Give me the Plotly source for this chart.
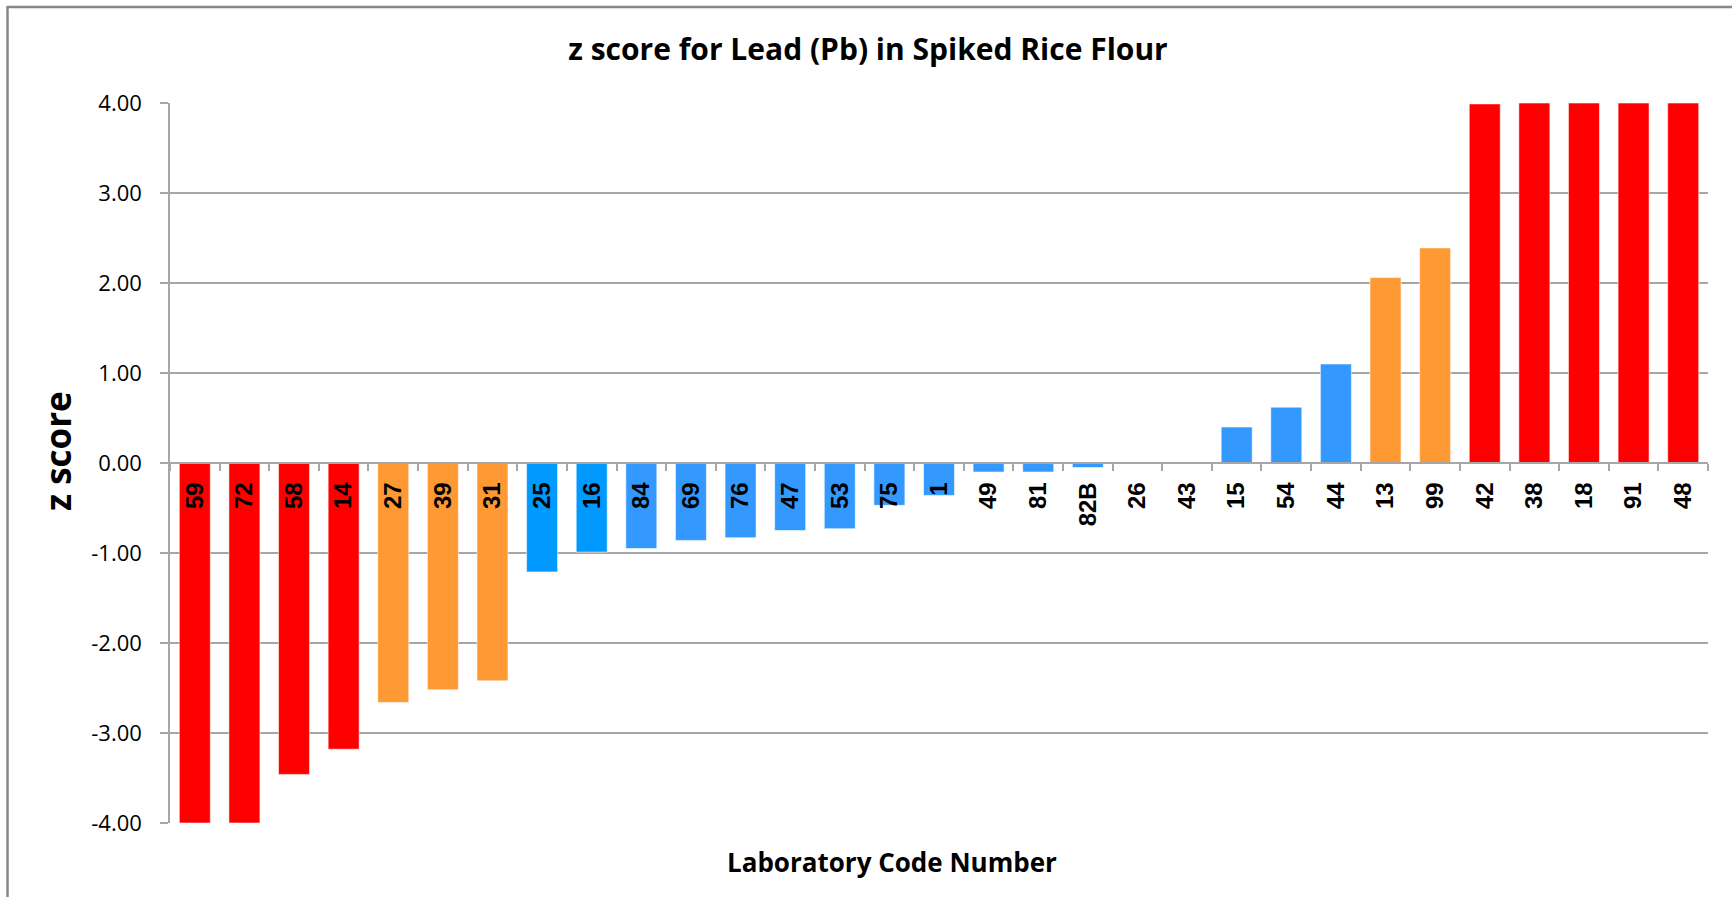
import plotly.graph_objects as go

# ---- data ----
lab_codes = ["59", "72", "58", "14", "27", "39", "31", "25", "16", "84", "69", "76",
             "47", "53", "75", "1", "49", "81", "82B", "26", "43", "15", "54", "44",
             "13", "99", "42", "38", "18", "91", "48"]
z_scores = [-4.00, -4.00, -3.46, -3.18, -2.66, -2.52, -2.42, -1.21, -0.99, -0.95, -0.86, -0.83,
            -0.75, -0.73, -0.47, -0.36, -0.10, -0.10, -0.05, 0.00, 0.00, 0.40, 0.62, 1.10,
            2.06, 2.39, 3.99, 4.00, 4.00, 4.00, 4.00]
highlighted_labs = ["25", "16"]
y_tick_values = [-4, -3, -2, -1, 0, 1, 2, 3, 4]
y_tick_labels = [f"{v:.2f}" for v in y_tick_values]

# ---- style ----
W, H = 1732, 897
ML, MR, MT, MB = 170, 24, 103, 74
RED, ORANGE, BLUE, BRIGHT_BLUE = "#FF0000", "#FF9933", "#3399FF", "#0099FF"
GRID = "#a6a6a6"


def bar_color(code, z):
    a = abs(z)
    if a >= 3:
        return RED
    if a > 2:
        return ORANGE
    return BRIGHT_BLUE if code in highlighted_labs else BLUE


colors = [bar_color(c, z) for c, z in zip(lab_codes, z_scores)]

pw, ph = W - ML - MR, H - MT - MB


def px_x(x):
    return (x - ML) / pw


def px_y(y):
    return (H - MB - y) / ph


fig = go.Figure(go.Bar(
    x=lab_codes, y=z_scores,
    marker=dict(color=colors, line=dict(width=0.8, color="rgba(255,255,255,0.7)")),
    hoverinfo="x+y",
))

fig.update_layout(
    width=W, height=H,
    margin=dict(l=ML, r=MR, t=MT, b=MB),
    paper_bgcolor="white", plot_bgcolor="white",
    bargap=0.375,
    showlegend=False,
    title=dict(text="z score for Lead (Pb) in Spiked Rice Flour",
               xref="container", yref="container",
               x=868 / W, y=1 - 49 / H, xanchor="center", yanchor="middle",
               font=dict(family="Open Sans", size=30, color="black", weight="bold")),
    xaxis=dict(
        type="category", range=[-0.5, len(lab_codes) - 0.5],
        anchor="free", position=0.5,
        showline=True, linecolor=GRID, linewidth=1.5,
        showgrid=False,
        ticks="outside", tickson="boundaries", ticklen=7, tickcolor=GRID, tickwidth=1.5,
        tickangle=-90, ticklabelstandoff=9,
        tickfont=dict(family="Liberation Sans", size=24, color="black", weight="bold"),
    ),
    yaxis=dict(
        range=[-4, 4], tickvals=y_tick_values, ticktext=y_tick_labels,
        showgrid=True, gridcolor=GRID, gridwidth=1.5,
        zeroline=False,
        showline=True, linecolor=GRID, linewidth=1.5,
        ticks="outside", ticklen=8, tickcolor=GRID, tickwidth=1.5,
        ticklabelstandoff=14,
        tickfont=dict(family="Open Sans", size=22, color="black"),
    ),
    annotations=[
        dict(text="<b>Laboratory Code Number</b>", xref="paper", yref="paper",
             x=px_x(891.5), y=px_y(862), xanchor="center", yanchor="middle", showarrow=False,
             font=dict(family="Open Sans", size=26, color="black")),
        dict(text="<b>z score</b>", xref="paper", yref="paper", textangle=-90,
             x=px_x(58), y=px_y(451), xanchor="center", yanchor="middle", showarrow=False,
             font=dict(family="Open Sans", size=35, color="black")),
    ],
    shapes=[
        dict(type="line", xref="paper", yref="paper", x0=px_x(7.5), x1=px_x(7.5),
             y0=px_y(6.5), y1=px_y(H + 5), line=dict(color="#888888", width=2.5)),
        dict(type="line", xref="paper", yref="paper", x0=px_x(6.5), x1=px_x(W + 5),
             y0=px_y(7), y1=px_y(7), line=dict(color="#888888", width=2.5)),
    ],
)

fig.write_html("out.html", config={"displayModeBar": False},
               post_script="document.body.style.margin='0';")
